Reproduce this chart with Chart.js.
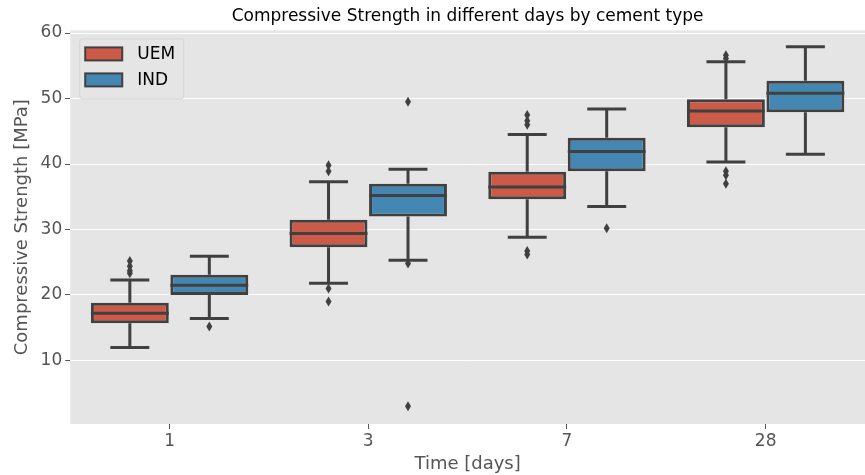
<!DOCTYPE html>
<html>
<head>
<meta charset="utf-8">
<script src="https://cdn.jsdelivr.net/npm/chart.js@4.4.1/dist/chart.umd.min.js"></script>
<style>
  body { margin: 0; background: #ffffff; }
  #wrap { width: 865px; height: 475px; }
</style>
</head>
<body>
<div id="wrap"><canvas id="c" width="865" height="475"></canvas></div>
<script>
// categories (days)
const days = ['1', '3', '7', '28'];
const yTicks = [10, 20, 30, 40, 50, 60];

// UEM box statistics, one value per day
const uemLow = [12.0, 21.8, 28.8, 40.3];
const uemQ1 = [15.7, 27.3, 34.6, 45.6];
const uemMed = [17.2, 29.4, 36.5, 48.1];
const uemQ3 = [18.8, 31.5, 38.8, 49.9];
const uemHigh = [22.3, 37.3, 44.5, 55.6];
const uemOut = [
    [25.2, 24.4, 23.7, 23.3],
    [39.8, 38.9, 21.0, 19.0],
    [47.5, 46.6, 46.0, 26.7, 26.2],
    [56.6, 56.1, 38.9, 38.3, 37.0]
];

// IND box statistics
const indLow = [16.4, 25.3, 33.5, 41.5];
const indQ1 = [20.0, 32.0, 38.9, 47.9];
const indMed = [21.5, 35.2, 41.9, 50.8];
const indQ3 = [23.1, 37.0, 44.0, 52.7];
const indHigh = [25.9, 39.2, 48.4, 57.9];
const indOut = [
    [15.2],
    [49.5, 24.8, 3.0],
    [30.2],
    []
];

const lineColor = '#404040';
const fontFamily = "'DejaVu Sans', sans-serif";

const boxStats = [
    { low: uemLow, med: uemMed, high: uemHigh, out: uemOut },
    { low: indLow, med: indMed, high: indHigh, out: indOut }
];

// grey panel behind the plot (ggplot style)
const panelBg = {
    id: 'panelBg',
    beforeDraw: (chart) => {
        const a = chart.chartArea;
        const ctx = chart.ctx;
        ctx.save();
        ctx.fillStyle = '#e5e5e5';
        ctx.fillRect(a.left, a.top, a.right - a.left, a.bottom - a.top);
        ctx.restore();
    }
};

// whiskers, caps, medians and fliers on top of the floating bars
const boxExtras = {
    id: 'boxExtras',
    afterDatasetsDraw: (chart) => {
        const ctx = chart.ctx;
        const y = chart.scales.y;
        ctx.save();
        ctx.strokeStyle = lineColor;
        ctx.fillStyle = lineColor;
        ctx.lineWidth = 3;
        ctx.lineCap = 'butt';
        boxStats.forEach((s, d) => {
            const meta = chart.getDatasetMeta(d);
            meta.data.forEach((bar, i) => {
                const x = bar.x;
                const w = bar.width;
                const q1 = chart.data.datasets[d].data[i][0];
                const q3 = chart.data.datasets[d].data[i][1];
                ctx.beginPath();
                ctx.moveTo(x, y.getPixelForValue(q3));
                ctx.lineTo(x, y.getPixelForValue(s.high[i]));
                ctx.moveTo(x, y.getPixelForValue(q1));
                ctx.lineTo(x, y.getPixelForValue(s.low[i]));
                ctx.moveTo(x - w / 4, y.getPixelForValue(s.high[i]));
                ctx.lineTo(x + w / 4, y.getPixelForValue(s.high[i]));
                ctx.moveTo(x - w / 4, y.getPixelForValue(s.low[i]));
                ctx.lineTo(x + w / 4, y.getPixelForValue(s.low[i]));
                ctx.moveTo(x - w / 2, y.getPixelForValue(s.med[i]));
                ctx.lineTo(x + w / 2, y.getPixelForValue(s.med[i]));
                ctx.stroke();
                s.out[i].forEach((v) => {
                    const py = y.getPixelForValue(v);
                    ctx.beginPath();
                    ctx.moveTo(x, py - 5);
                    ctx.lineTo(x + 3, py);
                    ctx.lineTo(x, py + 5);
                    ctx.lineTo(x - 3, py);
                    ctx.closePath();
                    ctx.fill();
                });
            });
        });
        ctx.restore();
    }
};

// legend box in the upper left corner of the panel
const cornerLegend = {
    id: 'cornerLegend',
    afterDraw: (chart) => {
        const ctx = chart.ctx;
        const a = chart.chartArea;
        const x0 = a.left + 9;
        const y0 = a.top + 8;
        ctx.save();
        ctx.fillStyle = 'rgba(229,229,229,0.8)';
        ctx.strokeStyle = '#d6d6d6';
        ctx.lineWidth = 1;
        ctx.beginPath();
        ctx.roundRect(x0 + 0.5, y0 + 0.5, 104, 60, 3);
        ctx.fill();
        ctx.stroke();
        chart.data.datasets.forEach((ds, i) => {
            const sy = y0 + 9 + i * 26;
            ctx.fillStyle = ds.backgroundColor;
            ctx.fillRect(x0 + 6, sy, 37, 13);
            ctx.strokeStyle = lineColor;
            ctx.lineWidth = 2;
            ctx.strokeRect(x0 + 6, sy, 37, 13);
            ctx.fillStyle = '#000000';
            ctx.font = '17px ' + fontFamily;
            ctx.textBaseline = 'middle';
            ctx.fillText(ds.label, x0 + 58, sy + 7);
        });
        ctx.restore();
    }
};

const config = {
    type: 'bar',
    data: {
        labels: days,
        datasets: [
            {
                label: 'UEM',
                data: days.map((d, i) => [uemQ1[i], uemQ3[i]]),
                backgroundColor: '#cc5a49',
                borderColor: lineColor,
                borderWidth: 3,
                borderSkipped: false
            },
            {
                label: 'IND',
                data: days.map((d, i) => [indQ1[i], indQ3[i]]),
                backgroundColor: '#4387b2',
                borderColor: lineColor,
                borderWidth: 3,
                borderSkipped: false
            }
        ]
    },
    options: {
        responsive: false,
        animation: false,
        categoryPercentage: 0.8,
        barPercentage: 0.98,
        layout: {
            padding: { left: 12, right: 0, top: 0, bottom: 0 }
        },
        scales: {
            x: {
                offset: true,
                grid: {
                    offset: false,
                    color: 'rgba(0,0,0,0)',
                    tickColor: '#555555',
                    tickLength: 5
                },
                border: { display: false },
                ticks: {
                    color: '#555555',
                    font: { family: fontFamily, size: 17 },
                    padding: 2
                },
                title: {
                    display: true,
                    text: 'Time [days]',
                    color: '#555555',
                    font: { family: fontFamily, size: 18 },
                    padding: { top: 0, bottom: 0 }
                }
            },
            y: {
                min: 0.3,
                max: 60.4,
                afterBuildTicks: (axis) => {
                    axis.ticks = yTicks.map((v) => ({ value: v }));
                },
                grid: {
                    color: '#ffffff',
                    lineWidth: 1,
                    tickColor: '#555555',
                    tickLength: 5
                },
                border: { display: false },
                ticks: {
                    color: '#555555',
                    font: { family: fontFamily, size: 17 },
                    padding: 3
                },
                title: {
                    display: true,
                    text: 'Compressive Strength [MPa]',
                    color: '#555555',
                    font: { family: fontFamily, size: 18 },
                    padding: { top: 0, bottom: 4 }
                }
            }
        },
        plugins: {
            legend: { display: false },
            tooltip: { enabled: false },
            title: {
                display: true,
                fullSize: false,
                text: 'Compressive Strength in different days by cement type',
                color: '#000000',
                font: { family: fontFamily, size: 17, weight: 'normal' },
                padding: { top: 6, bottom: 4 }
            }
        }
    },
    plugins: [panelBg, boxExtras, cornerLegend]
};

new Chart(document.getElementById('c').getContext('2d'), config);
</script>
</body>
</html>
